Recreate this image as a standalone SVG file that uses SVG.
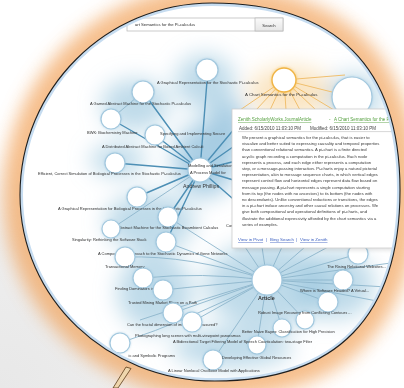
<svg xmlns="http://www.w3.org/2000/svg" width="404" height="388" viewBox="0 0 404 388">
<style>
.lbl{font-family:"Liberation Sans",Arial,sans-serif;font-size:4px;fill:#2e2e2e}
.big{font-size:5.3px;fill:#333}
.art{font-size:5.4px;font-weight:bold;fill:#333}
.edge{stroke:#8db5cc;stroke-width:0.9;fill:none}
.dark{stroke:#4d8fb5;stroke-width:1.4}
.oedge{stroke:#f0bf6e;stroke-width:1;fill:none}
.node{fill:#fff;stroke:#a3c8de;stroke-width:1.2}
.onode{fill:#fff;stroke:#f0b445;stroke-width:1.4}
.halo{fill:#8dbcd8;filter:url(#b2);opacity:0.75}
.glow{fill:#9cc7df;opacity:0.65}
.tt{font-family:"Liberation Sans",Arial,sans-serif;font-size:4.2px;fill:#3a3a3a}
.hd{font-family:"Liberation Sans",Arial,sans-serif;font-size:4.5px}
.lnk{fill:#3b5fc0;text-decoration:underline}
.grn{fill:#56a040;text-decoration:underline}
</style>
<defs>
<path id="lensShape" d="M212 3C336 3 400 67 400 190C400 316 337 381 215 381C107 381 20 298 20 195C20 89 106 3 212 3Z"/>
<filter id="b12" x="-50%" y="-50%" width="200%" height="200%"><feGaussianBlur stdDeviation="11"/></filter>
<filter id="b9" x="-20%" y="-20%" width="140%" height="140%"><feGaussianBlur stdDeviation="9"/></filter>
<filter id="b2" x="-50%" y="-50%" width="200%" height="200%"><feGaussianBlur stdDeviation="1.6"/></filter>
<filter id="sh" x="-10%" y="-10%" width="120%" height="120%"><feGaussianBlur stdDeviation="2"/></filter>
<radialGradient id="gray" cx="0" cy="388" r="240" gradientUnits="userSpaceOnUse">
<stop offset="0" stop-color="#e8e8e8"/><stop offset="0.6" stop-color="#eeeeee"/><stop offset="1" stop-color="#ffffff"/>
</radialGradient>
<linearGradient id="btn" x1="0" y1="0" x2="0" y2="1"><stop offset="0" stop-color="#fafafa"/><stop offset="1" stop-color="#e6e6e6"/></linearGradient>
<clipPath id="lens"><use href="#lensShape"/></clipPath>
</defs>

<rect width="404" height="388" fill="#fff"/>
<rect width="404" height="388" fill="url(#gray)"/>
<use href="#lensShape" fill="none" stroke="#f2a35a" stroke-width="34" opacity="0.7" filter="url(#b9)"/>

<g clip-path="url(#lens)">
<use href="#lensShape" fill="#fff"/>
<g id="glows" filter="url(#b12)">
<ellipse class="glow" cx="205" cy="82" rx="30" ry="28"/>
<ellipse class="glow" cx="135" cy="105" rx="34" ry="26"/>
<ellipse class="glow" cx="118" cy="160" rx="28" ry="16"/>
<ellipse class="glow" cx="205" cy="160" rx="32" ry="38" style="opacity:0.85"/>
<ellipse class="glow" cx="228" cy="125" rx="20" ry="26" style="opacity:0.85"/>
<ellipse class="glow" cx="150" cy="222" rx="45" ry="30"/>
<ellipse class="glow" cx="155" cy="292" rx="38" ry="40"/>
<ellipse class="glow" cx="267" cy="285" rx="62" ry="44"/>
<ellipse class="glow" cx="335" cy="285" rx="40" ry="34"/>
<ellipse class="glow" cx="232" cy="348" rx="60" ry="20"/>
<ellipse class="glow" cx="354" cy="97" rx="28" ry="24"/>
<ellipse cx="290" cy="92" rx="42" ry="26" fill="#f7d49a" opacity="0.6"/>
</g>

<g id="connectors">
<path class="edge dark" d="M200 170L207 81M200 170L143 92M200 170L111 119M200 170L155 135M200 170L115 163M200 170L137 197M200 170L168 217M200 170L166 242M200 170L240 122M200 170L240 142M200 170L240 160M200 170L240 182M200 170L240 205"/>
<path class="edge" d="M200 170L111 229M143 92L111 119"/>
<path class="edge" d="M267 280L358 254M267 280L343 280M267 280L328 302M267 280L305 320M267 280L282 328M267 280L257 345M267 280L213 360M267 280L192 322M267 280L173 313M267 280Q210 285 163 290M267 280Q200 272 143 278M267 280Q190 255 125 257M267 280L166 242M267 280L168 217M267 280L245 247M267 280L262 247M267 280L282 247M267 280L305 247M267 280L328 247M267 280L398 262M267 280L404 288M267 280L398 305M267 280Q190 320 120 343M267 280Q200 300 140 320"/>
<path class="oedge" d="M284 80L352 97M284 80L240 110M284 80L256 110M284 80L270 110M284 80L286 110M284 80L300 110M284 80L316 110M284 80L334 110M284 80L345 75"/>
</g>

<g id="n1"><circle class="halo" cx="207" cy="70" r="11"/><circle class="node" cx="207" cy="70" r="11"/><text class="lbl" x="157" y="84">A Graphical Representation for the Stochastic Pi-calculus</text></g>
<g id="n2"><circle class="halo" cx="143" cy="92" r="11"/><circle class="node" cx="143" cy="92" r="11"/><text class="lbl" x="90" y="105">A Gamed Abstract Machine for the Stochastic Pi-calculus</text></g>
<g id="n3"><circle class="halo" cx="111" cy="119" r="10"/><circle class="node" cx="111" cy="119" r="10"/><text class="lbl" x="87" y="134">BWK: Biochemistry Machine</text></g>
<g id="n4"><circle class="halo" cx="155" cy="135" r="10"/><circle class="node" cx="155" cy="135" r="10"/><text class="lbl" x="160" y="135">Specifying and Implementing Secure</text><text class="lbl" x="102" y="148">A Distributed Abstract Machine for Boxed Ambient Calculi</text></g>
<g id="n5"><circle class="halo" cx="115" cy="163" r="10"/><circle class="node" cx="115" cy="163" r="10"/><text class="lbl" x="38" y="175">Efficient, Correct Simulation of Biological Processes in the Stochastic Pi-calculus</text></g>
<g id="hub-andrew"><circle class="halo" cx="200" cy="170" r="12"/><circle class="node" cx="200" cy="170" r="12"/><text class="lbl" x="188" y="167">Modelling and Simulation</text><text class="lbl" x="190" y="174">A Process Model for</text><text class="lbl big" x="183" y="188">Andrew Phillips</text></g>
<g id="n6"><circle class="halo" cx="137" cy="197" r="10"/><circle class="node" cx="137" cy="197" r="10"/><text class="lbl" x="58" y="210">A Graphical Representation for Biological Processes in the Stochastic Pi-calculus</text></g>
<g id="n7"><circle class="halo" cx="168" cy="217" r="10"/><circle class="node" cx="168" cy="217" r="10"/><text class="lbl" x="112" y="229">An Abstract Machine for the Stochastic Bioambient Calculus</text><text class="lbl" x="226" y="227">Cor</text></g>
<g id="n8"><circle class="halo" cx="111" cy="229" r="9"/><circle class="node" cx="111" cy="229" r="9"/><text class="lbl" x="72" y="241">Singularity: Rethinking the Software Stack</text></g>
<g id="n9"><circle class="halo" cx="166" cy="242" r="10"/><circle class="node" cx="166" cy="242" r="10"/><text class="lbl" x="98" y="255">A Compositional Approach to the Stochastic Dynamics of Gene Networks</text></g>
<g id="n10"><circle class="halo" cx="125" cy="257" r="10"/><circle class="node" cx="125" cy="257" r="10"/><text class="lbl" x="105" y="268">Transactional Memory</text></g>
<g id="n11"><circle class="halo" cx="143" cy="278" r="10"/><circle class="node" cx="143" cy="278" r="10"/><text class="lbl" x="115" y="290">Finding Dominators in Practice</text></g>
<g id="n12"><circle class="halo" cx="163" cy="290" r="10"/><circle class="node" cx="163" cy="290" r="10"/><text class="lbl" x="128" y="304">Trusted Mining Market Place on a Path</text></g>
<g id="n13"><circle class="halo" cx="173" cy="313" r="10"/><circle class="node" cx="173" cy="313" r="10"/><text class="lbl" x="127" y="326">Can the fractal dimension of images be measured?</text></g>
<g id="n14"><circle class="halo" cx="192" cy="322" r="10"/><circle class="node" cx="192" cy="322" r="10"/><text class="lbl" x="135" y="337">Photographing long scenes with multi-viewpoint panoramas</text></g>
<g id="n15"><circle class="halo" cx="120" cy="343" r="10"/><circle class="node" cx="120" cy="343" r="10"/><text class="lbl" x="175" y="357" text-anchor="end">ic and Symbolic Programs</text></g>
<g id="n16"><circle class="halo" cx="213" cy="360" r="10"/><circle class="node" cx="213" cy="360" r="10"/><text class="lbl" x="168" y="372">A Linear Nonlocal Oscillator Model with Applications</text></g>
<g id="r6"><circle class="halo" cx="257" cy="345" r="9"/><circle class="node" cx="257" cy="345" r="9"/><text class="lbl" x="222" y="359">Developing Effective Global Resources</text></g>
<g id="r5"><circle class="halo" cx="282" cy="328" r="9"/><circle class="node" cx="282" cy="328" r="9"/><text class="lbl" x="173" y="343">A Bidirectional Target Filtering Model of Speech Coarticulation: two-stage Filter</text></g>
<g id="r4"><circle class="halo" cx="305" cy="320" r="9"/><circle class="node" cx="305" cy="320" r="9"/><text class="lbl" x="242" y="333">Better Naive Bayes: Classification for High Precision</text></g>
<g id="r3"><circle class="halo" cx="328" cy="302" r="10"/><circle class="node" cx="328" cy="302" r="10"/><text class="lbl" x="258" y="314">Robust Image Recovery from Conflicting Contours ...</text></g>
<g id="r2"><circle class="halo" cx="343" cy="280" r="10"/><circle class="node" cx="343" cy="280" r="10"/><text class="lbl" x="300" y="292">Where is Software Headed? A Virtual...</text></g>
<g id="r1"><circle class="halo" cx="358" cy="254" r="10"/><circle class="node" cx="358" cy="254" r="10"/><text class="lbl" x="327" y="268">The Rising Relational Websites...</text></g>
<g id="hub-article"><circle class="halo" cx="267" cy="280" r="15"/><circle class="node" cx="267" cy="280" r="15"/><text class="lbl art" x="258" y="300">Article</text></g>
<g id="big-node"><circle class="halo" cx="352" cy="97" r="20"/><circle class="node" cx="352" cy="97" r="20"/></g>
<g id="chart-node"><circle cx="284" cy="80" r="13" fill="#f6c766" filter="url(#b2)" opacity="0.7"/><circle class="onode" cx="284" cy="80" r="12"/><text class="lbl" x="245" y="96" style="font-size:4.4px">A Chart Semantics for the Pi-calculus</text></g>

<g id="tooltip">
<rect x="234" y="111" width="180" height="139" fill="#000" opacity="0.12" filter="url(#sh)"/>
<rect x="232" y="109" width="180" height="139" fill="#fff" stroke="#cdcdcd" stroke-width="0.8"/>
<text class="hd" y="121"><tspan class="grn" x="238">Zenith.ScholarlyWorks.JournalArticle</tspan><tspan fill="#56a040" x="329">-</tspan><tspan class="grn" x="334">A Chart Semantics for the Pi-calculus</tspan></text>
<text class="hd" y="130" fill="#444"><tspan x="239">Added: 6/15/2010 11:03:10 PM</tspan><tspan x="310">Modified: 6/15/2010 11:03:10 PM</tspan></text>
<line x1="238" y1="131.6" x2="410" y2="131.6" stroke="#9a9a9a" stroke-width="0.4"/>
<text class="tt">
<tspan x="242" y="139">We present a graphical semantics for the pi-calculus, that is easier to</tspan>
<tspan x="242" y="145.2">visualize and better suited to expressing causality and temporal properties</tspan>
<tspan x="242" y="151.4">than conventional relational semantics. A pi-chart is a finite directed</tspan>
<tspan x="242" y="157.6">acyclic graph recording a computation in the pi-calculus. Each node</tspan>
<tspan x="242" y="163.8">represents a process, and each edge either represents a computation</tspan>
<tspan x="242" y="170">step, or a message-passing interaction. Pi-charts enjoy a natural pictorial</tspan>
<tspan x="242" y="176.2">representation, akin to message sequence charts, in which vertical edges</tspan>
<tspan x="242" y="182.4">represent control flow and horizontal edges represent data flow based on</tspan>
<tspan x="242" y="188.6">message passing. A pi-chart represents a single computation starting</tspan>
<tspan x="242" y="194.8">from its top (the nodes with no ancestors) to its bottom (the nodes with</tspan>
<tspan x="242" y="201">no descendants). Unlike conventional reductions or transitions, the edges</tspan>
<tspan x="242" y="207.2">in a pi-chart induce ancestry and other causal relations on processes. We</tspan>
<tspan x="242" y="213.4">give both compositional and operational definitions of pi-charts, and</tspan>
<tspan x="242" y="219.6">illustrate the additional expressivity afforded by the chart semantics via a</tspan>
<tspan x="242" y="225.8">series of examples.</tspan>
</text>
<text class="hd" y="241" style="font-size:4.4px"><tspan class="lnk" x="238">View in Pivot</tspan><tspan fill="#3b5fc0" x="266">|</tspan><tspan class="lnk" x="270">Bing Search</tspan><tspan fill="#3b5fc0" x="296">|</tspan><tspan class="lnk" x="300">View in Zenith</tspan></text>
</g>

<g id="search">
<rect x="127" y="18" width="156" height="13" fill="#fff" stroke="#b5b5b5" stroke-width="0.7"/>
<text class="lbl" x="135" y="26" style="font-size:4.2px">art Semantics for the Pi-calculus</text>
<rect x="255" y="18" width="28" height="13" fill="url(#btn)" stroke="#b5b5b5" stroke-width="0.7"/>
<text class="lbl" x="269" y="26.5" text-anchor="middle" style="font-size:4.2px">Search</text>
</g>

<use href="#lensShape" fill="none" stroke="#c6dcf0" stroke-width="6"/>
</g>

<g id="rim">
<use href="#lensShape" fill="none" stroke="#1e1e1e" stroke-width="1.1"/>
<path d="M126 367 L131 368.5 L118 388 L113 388 Z" fill="#efd6ad" stroke="#5a3b18" stroke-width="0.8"/>
</g>
</svg>
